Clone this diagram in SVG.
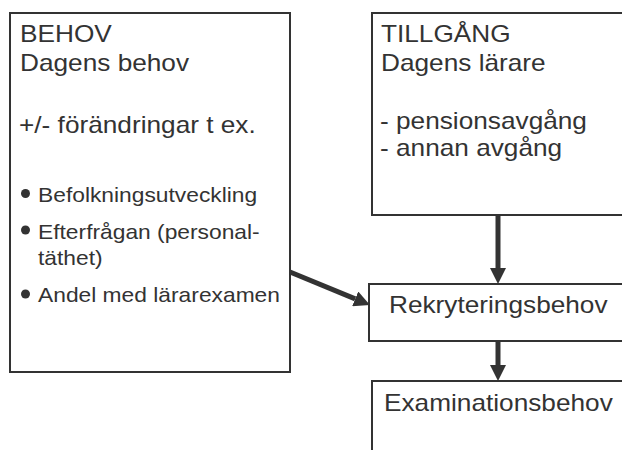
<svg xmlns="http://www.w3.org/2000/svg" width="622" height="450" viewBox="0 0 622 450">
<style>
.box{fill:#fff;stroke:#333;stroke-width:2}
.t{font-family:"Liberation Sans",Arial,sans-serif;fill:#333}
.big{font-size:23px}
.small{font-size:20px}
.conn{stroke:#333;stroke-width:5;fill:none}
</style>
<defs>
<marker id="ah" markerUnits="userSpaceOnUse" markerWidth="16" markerHeight="16" refX="0" refY="8" orient="auto">
<path d="M0,0 L16,8 L0,16 z" fill="#333"/>
</marker>
</defs>
<rect width="622" height="450" fill="#fff"/>
<g id="behov">
<rect class="box" x="10" y="13" width="280" height="359"/>
<text class="t big" transform="translate(20,42) scale(1.14,1)">BEHOV</text>
<text class="t big" transform="translate(20,71) scale(1.14,1)">Dagens behov</text>
<text class="t big" transform="translate(19,133) scale(1.14,1)">+/- förändringar t ex.</text>
<circle cx="25.5" cy="193.5" r="4.5" fill="#333"/>
<text class="t small" transform="translate(38,201.5) scale(1.14,1)">Befolkningsutveckling</text>
<circle cx="25.5" cy="230" r="4.5" fill="#333"/>
<text class="t small" transform="translate(38,238.5) scale(1.14,1)">Efterfrågan (personal-</text>
<text class="t small" transform="translate(38,265) scale(1.14,1)">täthet)</text>
<circle cx="25.5" cy="294" r="4.5" fill="#333"/>
<text class="t small" transform="translate(38,301.5) scale(1.14,1)">Andel med lärarexamen</text>
</g>
<g id="tillgang">
<rect class="box" x="372" y="13" width="270" height="202"/>
<text class="t big" transform="translate(381,42) scale(1.14,1)">TILLGÅNG</text>
<text class="t big" transform="translate(381,71) scale(1.14,1)">Dagens lärare</text>
<text class="t big" transform="translate(380,128.5) scale(1.14,1)">- pensionsavgång</text>
<text class="t big" transform="translate(380,156) scale(1.14,1)">- annan avgång</text>
</g>
<g id="rekrytering">
<rect class="box" x="369" y="284" width="273" height="57"/>
<text class="t big" transform="translate(389,313) scale(1.14,1)">Rekryteringsbehov</text>
</g>
<g id="examination">
<rect class="box" x="372" y="381" width="270" height="100"/>
<text class="t big" transform="translate(384,410.5) scale(1.14,1)">Examinationsbehov</text>
</g>
<g id="connectors">
<line class="conn" x1="498" y1="215" x2="498" y2="268" marker-end="url(#ah)"/>
<line class="conn" x1="498" y1="341" x2="498" y2="365" marker-end="url(#ah)"/>
<line class="conn" x1="290" y1="272" x2="355.2" y2="298.9" marker-end="url(#ah)"/>
</g>
</svg>
